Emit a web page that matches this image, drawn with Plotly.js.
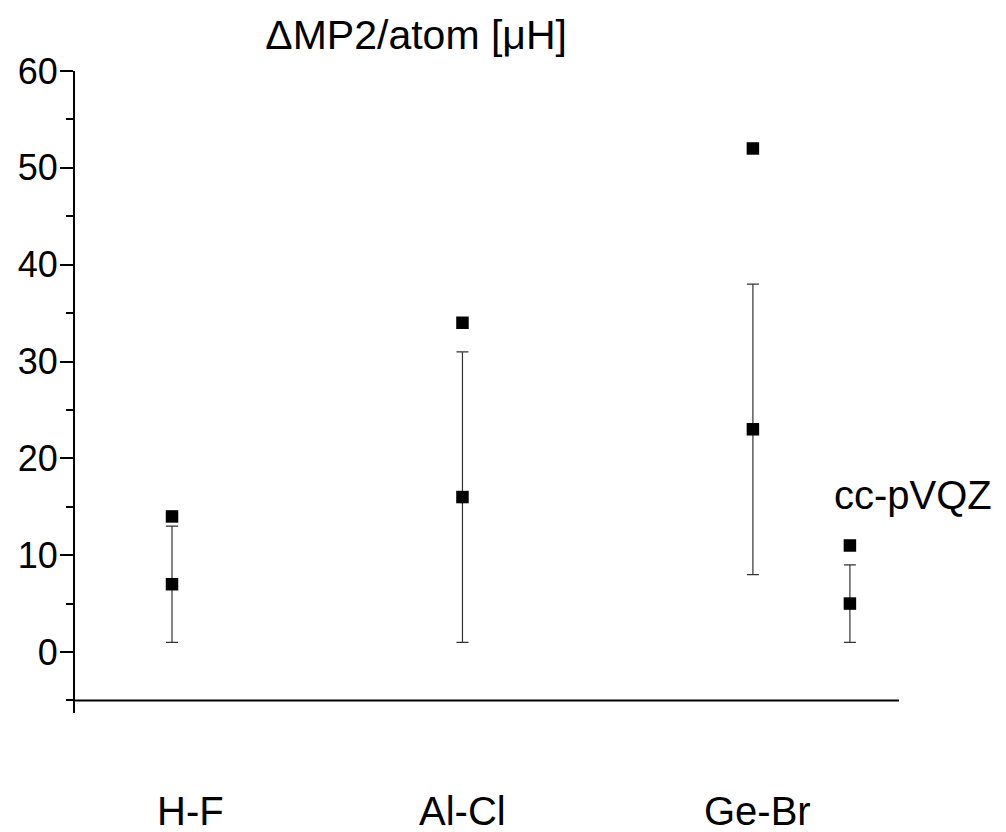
<!DOCTYPE html>
<html>
<head>
<meta charset="utf-8">
<script src="https://cdn.plot.ly/plotly-3.0.1.min.js"></script>
<style>html,body{margin:0;padding:0;background:#fff;}#chart{width:1006px;height:832px;}</style>
</head>
<body>
<div id="chart"></div>
<script>
const categories = ['H-F', 'Al-Cl', 'Ge-Br', 'cc-pVQZ'];
const xPositions = [1, 2, 3, 3.334];
const upperValues = [14, 34, 52, 11];
const lowerValues = [7, 16, 23, 5];
const lowerErrors = [6, 15, 15, 4];
const labelCategories = ['H-F', 'Al-Cl', 'Ge-Br'];
const labelShifts = [18, 0, 5];
const yTickVals = [0, 10, 20, 30, 40, 50, 60];

const FONT = '"Liberation Sans", Arial, Helvetica, sans-serif';

const traces = [
  {
    type: 'scatter', mode: 'markers',
    x: xPositions, y: upperValues, text: categories,
    marker: {symbol: 'square', size: 12.5, color: '#000'},
    showlegend: false, cliponaxis: false
  },
  {
    type: 'scatter', mode: 'markers',
    x: xPositions, y: lowerValues, text: categories,
    marker: {symbol: 'square', size: 12.5, color: '#000'},
    error_y: {type: 'data', array: lowerErrors, visible: true, color: '#333', thickness: 1.2, width: 6},
    showlegend: false, cliponaxis: false
  }
];

const annotations = labelCategories.map((c, i) => ({
  text: c, xref: 'x', yref: 'paper', x: xPositions[i], xshift: labelShifts[i], y: -0.1527,
  xanchor: 'center', yanchor: 'middle', showarrow: false,
  font: {family: FONT, size: 40, color: '#000'}
}));
annotations.push({
  text: categories[3], xref: 'paper', yref: 'paper', x: 1.017, y: 0.3396,
  xanchor: 'center', yanchor: 'middle', showarrow: false,
  font: {family: FONT, size: 40, color: '#000'}
});

const layout = {
  width: 1006, height: 832,
  margin: {l: 75, r: 107, t: 71, b: 119, pad: 0},
  paper_bgcolor: '#fff', plot_bgcolor: '#fff',
  font: {family: FONT, color: '#000'},
  title: {
    text: '\u0394MP2/atom [\u03bcH]', x: 0.414, xref: 'paper', xanchor: 'center',
    y: 0.958, yref: 'container', yanchor: 'middle',
    font: {family: FONT, size: 41, color: '#000'}
  },
  xaxis: {
    range: [0.666, 3.503], showgrid: false, zeroline: false, showline: false,
    showticklabels: false, ticks: ''
  },
  yaxis: {
    range: [-6.3, 60], showgrid: false, zeroline: false,
    showline: true, linecolor: '#000', linewidth: 2,
    tickvals: yTickVals, ticktext: yTickVals.map(String),
    ticks: 'outside', ticklen: 13, tickwidth: 2, tickcolor: '#000',
    ticklabelstandoff: -5,
    tickfont: {family: FONT, size: 36, color: '#000'},
    minor: {dtick: 5, tick0: 0, ticks: 'outside', ticklen: 7, tickwidth: 2, tickcolor: '#000', showgrid: false}
  },
  shapes: [{
    type: 'line', xref: 'paper', yref: 'y', x0: 0, x1: 1, y0: -5, y1: -5,
    line: {color: '#000', width: 2}
  }],
  annotations: annotations
};

Plotly.newPlot('chart', traces, layout, {displayModeBar: false, staticPlot: true});
</script>
</body>
</html>
